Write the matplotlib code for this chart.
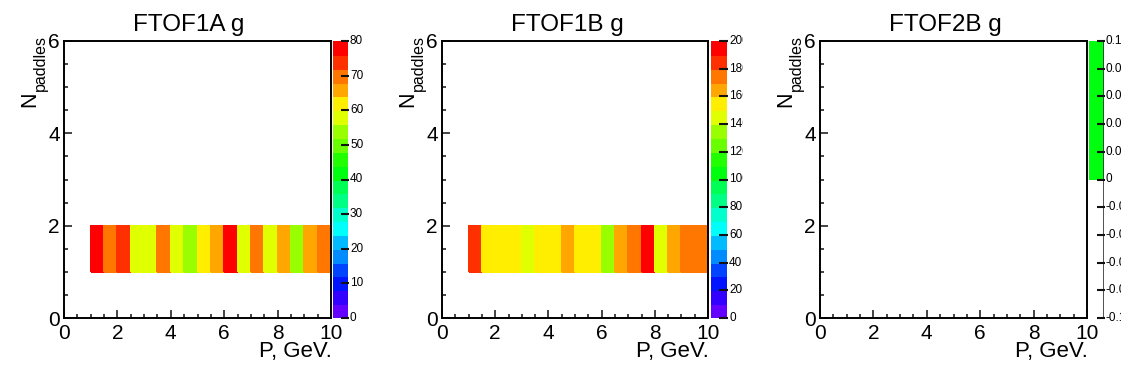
import colorsys
import numpy as np
import matplotlib
matplotlib.use("Agg")
import matplotlib.pyplot as plt
from matplotlib.colors import ListedColormap, BoundaryNorm
from matplotlib.transforms import Bbox, blended_transform_factory

plt.rcParams['font.family'] = ['Liberation Sans', 'DejaVu Sans']

# ---------------- data ----------------
p_edges = np.arange(0, 10.01, 0.5)          # momentum bin edges (GeV)
n_edges = np.arange(0, 6.01, 1.0)           # N paddles bin edges
titles = ['FTOF1A g', 'FTOF1B g', 'FTOF2B g']
# counts in N_paddles = 1 row, one value per momentum bin (20 bins)
ftof1a_counts = [0, 0, 78, 70, 74, 58, 58, 70, 57, 54, 62, 66, 80, 58, 70, 57, 66, 54, 65, 70]
ftof1b_counts = [0, 0, 185, 155, 155, 155, 145, 155, 155, 165, 155, 155, 135, 165, 175, 200, 145, 165, 175, 175]
ftof2b_counts = [0] * 20
z_max = [80, 200, 0.1]
z_min = [0, 0, -0.1]
cb_ticks = [list(range(0, 81, 10)), list(range(0, 201, 20)),
            [0.1, 0.08, 0.06, 0.04, 0.02, 0, -0.02, -0.04, -0.06, -0.08, -0.1]]
cb_labels = [[str(v) for v in cb_ticks[0]], [str(v) for v in cb_ticks[1]],
             ['0.1', '0.08', '0.06', '0.04', '0.02', '0', '-0.02', '-0.04', '-0.06', '-0.08', '-0.1']]
all_counts = [ftof1a_counts, ftof1b_counts, ftof2b_counts]

# ---------------- ROOT "pretty" palette, 20 contour levels ----------------
def pretty(i):
    hue = 280 - (i + 1) * (280 / 50)
    return colorsys.hls_to_rgb(hue / 360.0, 0.5, 1.0)

ndiv = 20
levels_col = [pretty(min(49, int((k + 0.99) * 50 / ndiv))) for k in range(ndiv)]
cmap = ListedColormap(levels_col)
cmap.set_over(levels_col[-1])
cmap.set_under(levels_col[0])

W, H = 1134, 378
fig = plt.figure(figsize=(W / 100, H / 100), dpi=100)

def rect(l, r, t, b):
    return [l / W, 1 - b / H, (r - l) / W, (b - t) / H]

ax_lr = [(64, 331), (442, 708), (820, 1087)]
cb_lr = [(333, 348), (711, 727), (1089, 1104)]
top, bot = 41, 318

for i in range(3):
    off = 378 * i
    ax = fig.add_axes(rect(ax_lr[i][0], ax_lr[i][1], top, bot))
    vals = np.zeros((len(n_edges) - 1, len(p_edges) - 1))
    vals[1, :] = all_counts[i]
    vals = np.ma.masked_equal(vals, 0)
    norm = BoundaryNorm(np.linspace(z_min[i], z_max[i], ndiv + 1), ndiv)
    if vals.count() > 0:
        ax.pcolormesh(p_edges, n_edges, vals, cmap=cmap, norm=norm,
                      edgecolor='face', linewidth=0.3)
    ax.set_xlim(0, 10)
    ax.set_ylim(0, 6)
    ax.set_xticks(np.arange(0, 10.1, 2))
    ax.set_xticks(np.arange(0, 10.1, 0.5), minor=True)
    ax.set_yticks(np.arange(0, 6.1, 2))
    ax.set_yticks(np.arange(0, 6.1, 0.5), minor=True)
    ax.set_xticklabels(['0', '2', '4', '6', '8', '10'])
    ax.set_yticklabels(['0', '2', '4', '6'])
    ax.tick_params(which='both', direction='in', top=False, right=False,
                   width=1.1, color='#111111')
    ax.tick_params(which='major', length=6, labelsize=15, pad=4.5)
    ax.tick_params(which='minor', length=3)
    ax.tick_params(axis='y', which='major', pad=3)
    for s in ax.spines.values():
        s.set_linewidth(1.4)
        s.set_color('#000000')

    # title
    fig.text((189 + off) / W, 1 - 31 / H, titles[i], ha='center', va='baseline',
             fontsize=17.5)
    # x label
    fig.text((ax_lr[i][1] + 1) / W, 1 - 357 / H, 'P, GeV.', ha='right', va='baseline',
             fontsize=16)
    # y label
    fig.text((35 + off) / W, 1 - 107 / H, 'N', ha='left', va='baseline',
             rotation=90, rotation_mode='anchor', fontsize=15.5)
    fig.text((45 + off) / W, 1 - 91 / H, 'paddles', ha='left', va='baseline',
             rotation=90, rotation_mode='anchor', fontsize=11.5)

    # palette (colour bar)
    cax = fig.add_axes(rect(cb_lr[i][0], cb_lr[i][1], top, bot))
    cax.set_xlim(0, 1)
    cax.set_ylim(z_min[i], z_max[i])
    lev_edges = np.linspace(z_min[i], z_max[i], ndiv + 1)
    if vals.count() > 0:
        lev_vals = (lev_edges[:-1] + lev_edges[1:]) / 2
        cax.pcolormesh([0, 1], lev_edges, lev_vals.reshape(-1, 1), cmap=cmap, norm=norm,
                       edgecolor='face', linewidth=0.3)
    else:
        # empty histogram: single level drawn from 0 up to the top
        cax.axhspan(0, z_max[i], color=levels_col[10], lw=0)
        cax.axvline(1, color='#333333', lw=1.2)
    cax.set_xticks([])
    cax.set_yticks([])
    for s in cax.spines.values():
        s.set_visible(False)
    tr = blended_transform_factory(cax.transAxes, cax.transData)
    clip = Bbox.from_extents(0, 0, 365 + off, H)
    for v, lab in zip(cb_ticks[i], cb_labels[i]):
        cax.plot([0.5, 1.05], [v, v], color='#111111', lw=1.5, clip_on=False,
                 solid_capstyle='butt')
        t = fig.text(1.0 + 2 / 15, v, lab, transform=tr, ha='left', va='center',
                     fontsize=8.5, clip_on=True)
        t.set_clip_box(clip)

fig.savefig('out.png', dpi=100)
